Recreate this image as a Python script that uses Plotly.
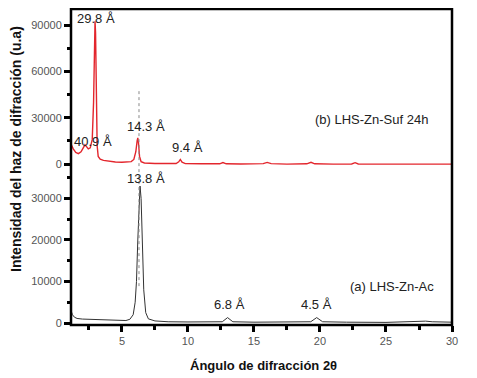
import plotly.graph_objects as go

# (b) LHS-Zn-Suf 24h  (top panel)
x_b = [1.14, 1.3, 1.5, 1.7, 1.9, 2.05, 2.2, 2.3, 2.45, 2.6, 2.75, 2.85, 2.92, 2.96, 3.0, 3.06,
       3.12, 3.2, 3.35, 3.6, 4.0, 4.5, 5.0, 5.4, 5.7, 5.9, 6.05, 6.15, 6.2, 6.25, 6.33, 6.45,
       6.7, 7.5, 8.5, 9.1, 9.3, 9.42, 9.55, 9.8, 11.0, 12.4, 12.65, 12.9, 14.0, 15.0, 15.7,
       16.0, 16.3, 17.5, 19.0, 19.32, 19.6, 21.0, 22.4, 22.66, 22.9, 25.0, 27.0, 30.0]
y_b = [13000, 10000, 7500, 6800, 8000, 10500, 12500, 11500, 9800, 10500, 16000, 40000, 80000,
       92500, 85000, 45000, 12000, 5000, 3200, 2400, 1800, 1400, 1200, 1200, 1600, 3000, 8000,
       15000, 17000, 14000, 5000, 1500, 700, 400, 300, 400, 1500, 3000, 1200, 300, 200, 200,
       1000, 200, 100, 300, 300, 1100, 300, 0, 200, 1200, 200, 0, 100, 900, 100, 0, 0, 0]

# (a) LHS-Zn-Ac  (bottom panel)
x_a = [1.14, 1.25, 1.4, 1.6, 2.0, 2.5, 3.0, 3.5, 4.0, 4.5, 5.0, 5.3, 5.6, 5.85, 6.0, 6.1, 6.2,
       6.3, 6.37, 6.45, 6.55, 6.65, 6.8, 7.0, 7.5, 8.5, 10.0, 11.5, 12.6, 13.0, 13.4, 15.0,
       17.0, 19.3, 19.75, 20.2, 22.0, 25.0, 27.5, 28.0, 28.5, 30.0]
y_a = [3000, 2000, 1400, 1100, 950, 900, 850, 800, 700, 600, 550, 600, 900, 2000, 5000, 10000,
       20000, 30000, 33000, 30000, 18000, 8000, 2500, 1000, 500, 300, 250, 200, 300, 1300, 300,
       200, 200, 300, 1300, 300, 200, 150, 400, 450, 300, 200]

x_ticks = [5, 10, 15, 20, 25, 30]
y_ticks_a = [0, 10000, 20000, 30000]
y_ticks_b = [0, 30000, 60000, 90000]

# peak labels: (text, x, y)
labels_b = [("29.8 Å", 3.03, 94000), ("40.9 Å", 2.81, 14900), ("14.3 Å", 6.82, 24600),
            ("9.4 Å", 9.93, 11000), ("(b) LHS-Zn-Suf 24h", 23.87, 29200)]
labels_a = [("13.8 Å", 6.82, 34900), ("6.8 Å", 13.11, 4340), ("4.5 Å", 19.7, 4340),
            ("(a) LHS-Zn-Ac", 25.46, 8900)]
ref_line_x = 6.29

FONT = "Arial, Liberation Sans, sans-serif"

fig = go.Figure()
fig.add_trace(go.Scatter(x=x_a, y=y_a, mode="lines", line=dict(color="#333333", width=1),
                         xaxis="x", yaxis="y", showlegend=False))
fig.add_trace(go.Scatter(x=x_b, y=y_b, mode="lines", line=dict(color="#e3262d", width=1.4),
                         xaxis="x", yaxis="y2", showlegend=False))

tick_common = dict(ticks="outside", tickwidth=2.5, ticklen=6, tickcolor="black",
                   showgrid=False, zeroline=False, showline=False, tickformat="d",
                   tickfont=dict(family=FONT, size=11, color="#555555"))

# page body adds an 8px offset; margins compensate so the plot area lands at 71..452 x 9..325
fig.update_layout(
    width=477, height=378,
    margin=dict(l=63, r=33, t=1, b=61),
    paper_bgcolor="white", plot_bgcolor="white",
    xaxis=dict(range=[1.14, 30], tickvals=x_ticks, anchor="y",
               minor=dict(tickvals=[2.5, 7.5, 12.5, 17.5, 22.5, 27.5], ticks="outside",
                          ticklen=4, tickwidth=2.5, tickcolor="black"),
               **tick_common),
    yaxis=dict(domain=[0, 0.487], range=[-480, 36600], tickvals=y_ticks_a,
               minor=dict(tickvals=[5000, 15000, 25000, 35000], ticks="outside",
                          ticklen=3, tickwidth=2.5, tickcolor="black"),
               **tick_common),
    yaxis2=dict(domain=[0.487, 1], range=[-4540, 100430], anchor="x",
                tickvals=y_ticks_b,
                minor=dict(tickvals=[15000, 45000, 75000], ticks="outside",
                           ticklen=3, tickwidth=2.5, tickcolor="black"),
                **tick_common),
)

# frame
fig.add_shape(type="rect", xref="paper", yref="paper", x0=0, x1=1, y0=0, y1=1,
              line=dict(color="black", width=2.5))
# dotted reference line
fig.add_shape(type="line", xref="x", yref="paper", x0=ref_line_x, x1=ref_line_x,
              y0=0.123, y1=0.74, line=dict(color="#888888", width=1, dash="dot"))

for t, xx, yy in labels_b:
    fig.add_annotation(text=t, x=xx, y=yy, xref="x", yref="y2", showarrow=False,
                       xanchor="center", yanchor="middle",
                       font=dict(family=FONT, size=13, color="#222222"))
for t, xx, yy in labels_a:
    fig.add_annotation(text=t, x=xx, y=yy, xref="x", yref="y", showarrow=False,
                       xanchor="center", yanchor="middle",
                       font=dict(family=FONT, size=13, color="#222222"))

# axis titles
fig.add_annotation(text="<b>Ángulo de difracción 2θ</b>", xref="paper", yref="paper",
                   x=(263 - 71) / 381, y=-(365 - 325) / 316, showarrow=False,
                   xanchor="center", yanchor="middle",
                   font=dict(family=FONT, size=13, color="#111111"))
fig.add_annotation(text="<b>Intensidad del haz de difracción (u.a)</b>", xref="paper",
                   yref="paper", x=(16 - 71) / 381, y=(325 - 149) / 316, showarrow=False,
                   xanchor="center", yanchor="middle",
                   textangle=-90, font=dict(family=FONT, size=14, color="#111111"))

fig.write_html("out.html")
